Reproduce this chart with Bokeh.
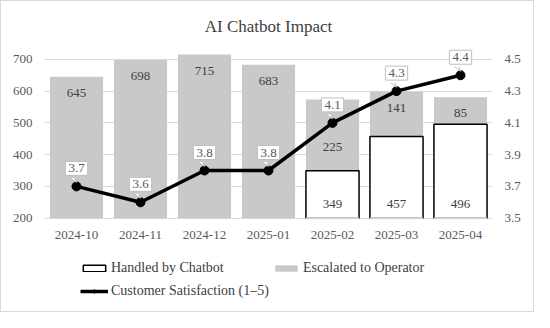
from bokeh.plotting import figure
from bokeh.models import (ColumnDataSource, Range1d, LinearAxis, FixedTicker,
                          LabelSet, Legend, LegendItem)
from bokeh.core.properties import value
from bokeh.embed import file_html
from bokeh.resources import INLINE

# ---- data ----
months = ["2024-10", "2024-11", "2024-12", "2025-01", "2025-02", "2025-03", "2025-04"]
chatbot = [0, 0, 0, 0, 349, 457, 496]
escalated = [645, 698, 715, 683, 225, 141, 85]
satisfaction = [3.7, 3.6, 3.8, 3.8, 4.1, 4.3, 4.4]
left_ticks = [200, 300, 400, 500, 600, 700]
right_ticks = [3.5, 3.7, 3.9, 4.1, 4.3, 4.5]
title_text = "AI Chatbot Impact"

# ---- style ----
FONT = "Liberation Serif"
GRAY_BAR = "#c9c9c9"
TEXT = "#404040"
AXIS_TEXT = "#595959"
GRID = "#d9d9d9"
BAR_W = 0.83
label_nudge = [0, 0, 0, 0, -32, 0, 0]  # move label clear of callout

W, H = 534, 312
TOP, BOTTOM, LEFT, RIGHT = 35, 3, 43, 43
PX_PER_UNIT = 0.3176          # px per left-axis unit
BASE = left_ticks[0]
Y_TOP = 772
Y_BOT = BASE - (H - TOP - BOTTOM - (Y_TOP - BASE) * PX_PER_UNIT) / PX_PER_UNIT
k = (right_ticks[-1] - right_ticks[0]) / (left_ticks[-1] - left_ticks[0])
to_sat = lambda v: right_ticks[0] + (v - BASE) * k

x = list(range(len(months)))
total = [c + e for c, e in zip(chatbot, escalated)]

src = ColumnDataSource(dict(
    x=x, chatbot=chatbot, escalated=escalated, total=total,
    gbot=[max(c, BASE) for c in chatbot],
    esc_txt=[str(v) for v in escalated],
    esc_dy=[-16 + n for n in label_nudge],
    sat=satisfaction, sat_txt=[f"{v:.1f}" for v in satisfaction],
    month=months, base=[BASE] * len(months),
))
cb_idx = [i for i, c in enumerate(chatbot) if c > 0]
cb_src = ColumnDataSource(dict(x=[x[i] for i in cb_idx],
                               top=[chatbot[i] for i in cb_idx],
                               y=[BASE] * len(cb_idx),
                               t=[str(chatbot[i]) for i in cb_idx]))

p = figure(width=W, height=H, output_backend="svg", toolbar_location=None,
           x_range=Range1d(-0.5, len(months) - 0.5), y_range=Range1d(Y_BOT, Y_TOP),
           min_border_left=LEFT, min_border_right=RIGHT, min_border_top=TOP,
           min_border_bottom=BOTTOM, title=title_text)
p.extra_y_ranges = {"sat": Range1d(to_sat(Y_BOT), to_sat(Y_TOP))}
p.outline_line_color = None
p.background_fill_color = "white"
p.border_fill_color = "white"
p.styles = {"border": "1px solid #d9d9d9", "box-sizing": "border-box"}

p.title.text_font = FONT
p.title.text_font_size = "17px"
p.title.text_font_style = "normal"
p.title.text_color = TEXT
p.title.align = "center"
p.title.standoff = 2

# bars
gray = p.vbar(x="x", bottom="gbot", top="total", width=BAR_W, source=src,
              fill_color=GRAY_BAR, line_color=None)
white = p.vbar(x="x", bottom="y", top="top", width=BAR_W, source=cb_src,
               fill_color="white", line_color="black", line_width=1.5)
hw = BAR_W / 2
p.multi_line(xs=[[xi - hw, xi + hw] for xi in cb_src.data["x"]],
             ys=[[BASE, BASE] for _ in cb_src.data["x"]],
             line_color=GRID, line_width=2)  # axis floor over bar bottom edge

# satisfaction line
line = p.line(x="x", y="sat", source=src, y_range_name="sat",
              line_color="black", line_width=3.5)
dots = p.scatter(x="x", y="sat", source=src, y_range_name="sat",
                 size=9, fill_color="black", line_color="black")

# axes
p.xaxis.visible = False
p.yaxis.ticker = FixedTicker(ticks=left_ticks)
ax_r = LinearAxis(y_range_name="sat", ticker=FixedTicker(ticks=right_ticks))
p.add_layout(ax_r, "right")
for ax in [p.yaxis[0], ax_r]:
    ax.axis_line_color = None
    ax.major_tick_line_color = None
    ax.minor_tick_line_color = None
    ax.major_tick_out = 0
    ax.major_tick_in = 0
    ax.minor_tick_out = 0
    ax.major_label_text_font = FONT
    ax.major_label_text_font_size = "13px"
    ax.major_label_text_color = AXIS_TEXT
    ax.major_label_standoff = 12

p.xgrid.visible = False
p.ygrid.ticker = FixedTicker(ticks=left_ticks)
p.ygrid.grid_line_color = GRID

# category labels
p.text(x="x", y="base", text="month", source=src, y_offset=17,
       text_align="center", text_baseline="middle", text_font=value(FONT),
       text_font_size="13px", text_color=AXIS_TEXT)

# bar value labels
p.add_layout(LabelSet(x="x", y="total", text="esc_txt", y_offset="esc_dy", source=src,
                      text_align="center", text_baseline="middle",
                      text_font=FONT, text_font_size="13px", text_color=TEXT))
p.add_layout(LabelSet(x="x", y="y", text="t", y_offset=14, source=cb_src,
                      text_align="center", text_baseline="middle",
                      text_font=FONT, text_font_size="13px", text_color=TEXT))

# callouts
p.text(x="x", y="sat", text="sat_txt", y_range_name="sat", source=src,
       y_offset=-11, text_align="center", text_baseline="bottom",
       text_font=value(FONT), text_font_size="13px", text_color=AXIS_TEXT,
       background_fill_color="white", border_line_color="#bfbfbf",
       padding=3, level="overlay")
px_x = (W - LEFT - RIGHT) / len(months)
px_y = PX_PER_UNIT / k
dx = 6 / px_x
top_dy = 8.5 / px_y
tip_dy = 4 / px_y
tri_xs = [[xi - dx, xi - 1.5 / px_x, xi] for xi in x]
tri_ys = [[s + top_dy, s + top_dy, s + tip_dy] for s in satisfaction]
p.patches(xs=tri_xs, ys=tri_ys, y_range_name="sat", fill_color="white",
          line_color=None, level="overlay")
side_xs = []
side_ys = []
for xs_, ys_ in zip(tri_xs, tri_ys):
    side_xs += [[xs_[0], xs_[2]], [xs_[1], xs_[2]]]
    side_ys += [[ys_[0], ys_[2]], [ys_[1], ys_[2]]]
p.multi_line(xs=side_xs, ys=side_ys, y_range_name="sat", line_color="#bfbfbf",
             line_width=1, level="overlay")

# legend
leg = Legend(items=[LegendItem(label="Handled by Chatbot", renderers=[white]),
                    LegendItem(label="Escalated to Operator", renderers=[gray]),
                    LegendItem(label="Customer Satisfaction (1–5)", renderers=[line, dots])],
             orientation="horizontal", ncols=2, location=(36, 9),
             border_line_color=None, background_fill_alpha=0,
             label_text_font=FONT, label_text_font_size="14px",
             label_text_color=TEXT, glyph_width=28, glyph_height=8,
             label_height=20, label_standoff=3, spacing=3, padding=0, margin=0)
p.add_layout(leg, "center")

open("out.html", "w").write(file_html(p, INLINE))
